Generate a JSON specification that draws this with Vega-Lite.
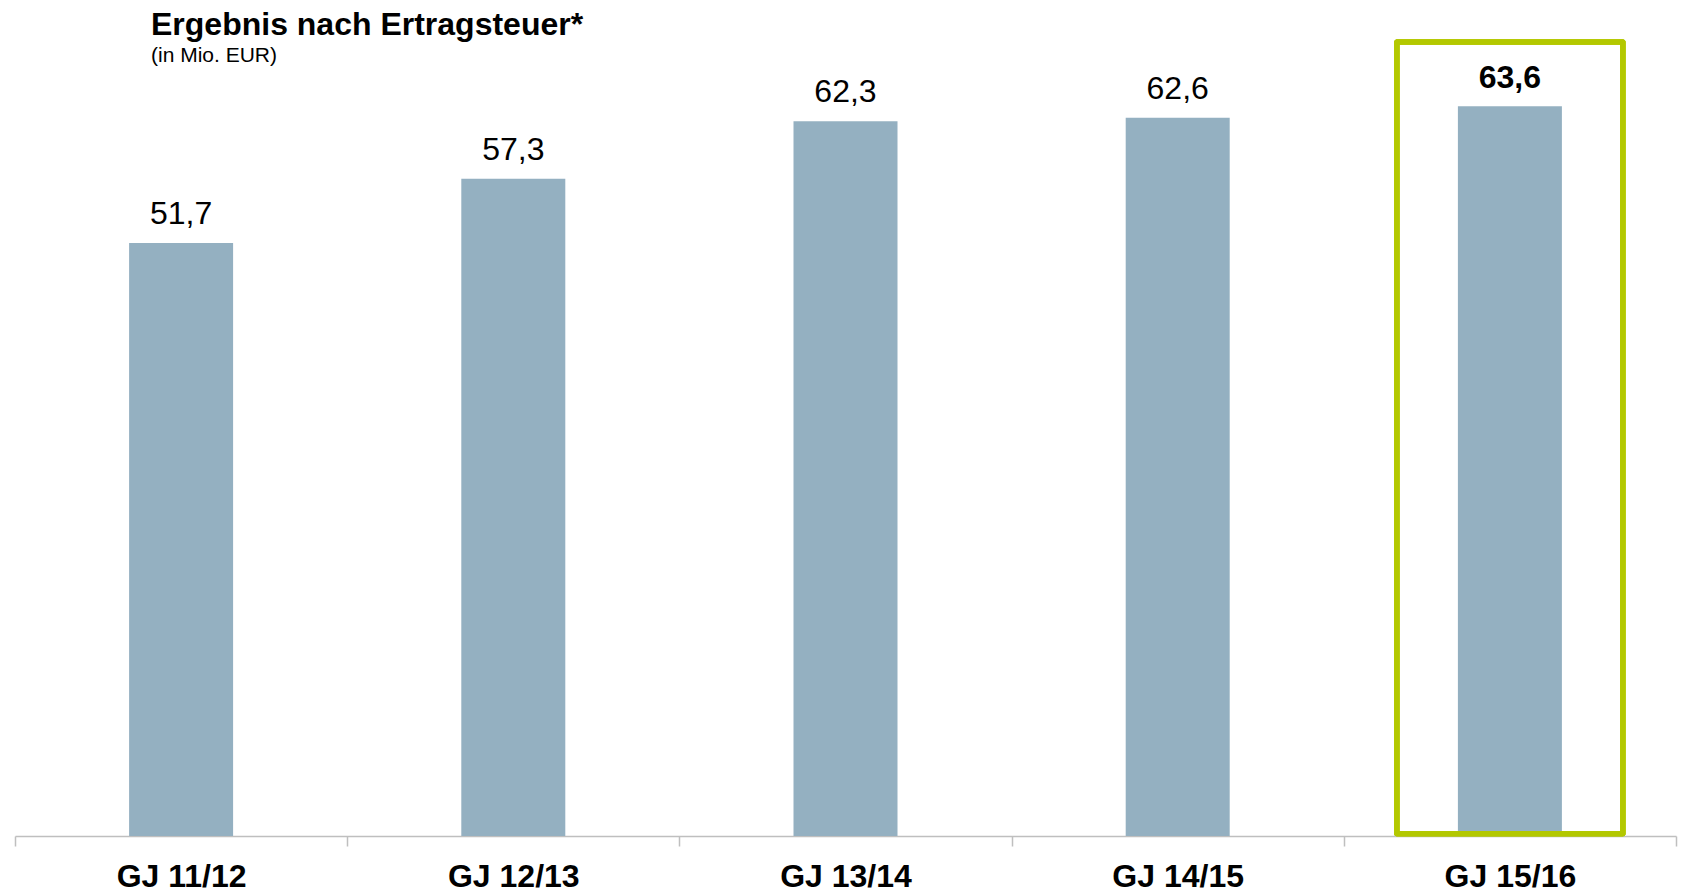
{
  "$schema": "https://vega.github.io/schema/vega-lite/v6.json",
  "width": 1661,
  "height": 826,
  "autosize": {"type": "none"},
  "padding": {"left": 15, "top": 10, "right": 7, "bottom": 56},
  "background": "white",
  "config": {
    "view": {"stroke": null},
    "locale": {"number": {"decimal": ",", "thousands": ".", "grouping": [3], "currency": ["", " €"]}},
    "font": "Liberation Sans"
  },
  "title": {
    "text": "Ergebnis nach Ertragsteuer*",
    "subtitle": "(in Mio. EUR)",
    "anchor": "start",
    "frame": "group",
    "orient": "top",
    "dx": 136,
    "dy": 61,
    "font": "Liberation Sans",
    "fontSize": 32,
    "fontWeight": "bold",
    "color": "black",
    "subtitleFont": "Liberation Sans",
    "subtitleFontSize": 21,
    "subtitleColor": "black",
    "subtitlePadding": 3
  },
  "data": {
    "values": [
      {"jahr": "GJ 11/12", "wert": 51.7},
      {"jahr": "GJ 12/13", "wert": 57.3},
      {"jahr": "GJ 13/14", "wert": 62.3},
      {"jahr": "GJ 14/15", "wert": 62.6},
      {"jahr": "GJ 15/16", "wert": 63.6}
    ]
  },
  "encoding": {
    "x": {
      "field": "jahr",
      "type": "nominal",
      "sort": null,
      "scale": {"paddingInner": 0, "paddingOuter": 0},
      "axis": {
        "title": null,
        "labelAngle": 0,
        "labelFont": "Liberation Sans",
        "labelFontSize": 32,
        "labelFontWeight": "bold",
        "labelColor": "black",
        "labelPadding": 15,
        "domainColor": "#BFBFBF",
        "domainWidth": 1.5,
        "tickColor": "#BFBFBF",
        "tickWidth": 1.5,
        "tickSize": 10,
        "tickBand": "extent",
        "grid": false
      }
    }
  },
  "layer": [
    {
      "mark": {"type": "bar", "size": 104, "color": "#94B0C1"},
      "encoding": {
        "y": {"field": "wert", "type": "quantitative", "scale": {"domain": [0, 72], "nice": false, "zero": true}, "axis": null}
      }
    },
    {
      "transform": [{"filter": "datum.jahr != 'GJ 15/16'"}],
      "mark": {"type": "text", "baseline": "alphabetic", "dy": -19, "fontSize": 32, "font": "Liberation Sans", "color": "black"},
      "encoding": {
        "y": {"field": "wert", "type": "quantitative"},
        "text": {"field": "wert", "type": "quantitative", "format": ".1f"}
      }
    },
    {
      "transform": [{"filter": "datum.jahr == 'GJ 15/16'"}],
      "mark": {"type": "text", "baseline": "alphabetic", "dy": -18, "fontSize": 32, "fontWeight": "bold", "font": "Liberation Sans", "color": "black"},
      "encoding": {
        "y": {"field": "wert", "type": "quantitative"},
        "text": {"field": "wert", "type": "quantitative", "format": ".1f"}
      }
    },
    {
      "mark": {"type": "bar", "size": 226, "fill": null, "fillOpacity": 0, "stroke": "#B3C800", "strokeWidth": 5, "strokeJoin": "round"},
      "encoding": {
        "x": {"datum": "GJ 15/16"},
        "y": {"datum": 69.2},
        "y2": {"datum": 0.2}
      }
    }
  ]
}
